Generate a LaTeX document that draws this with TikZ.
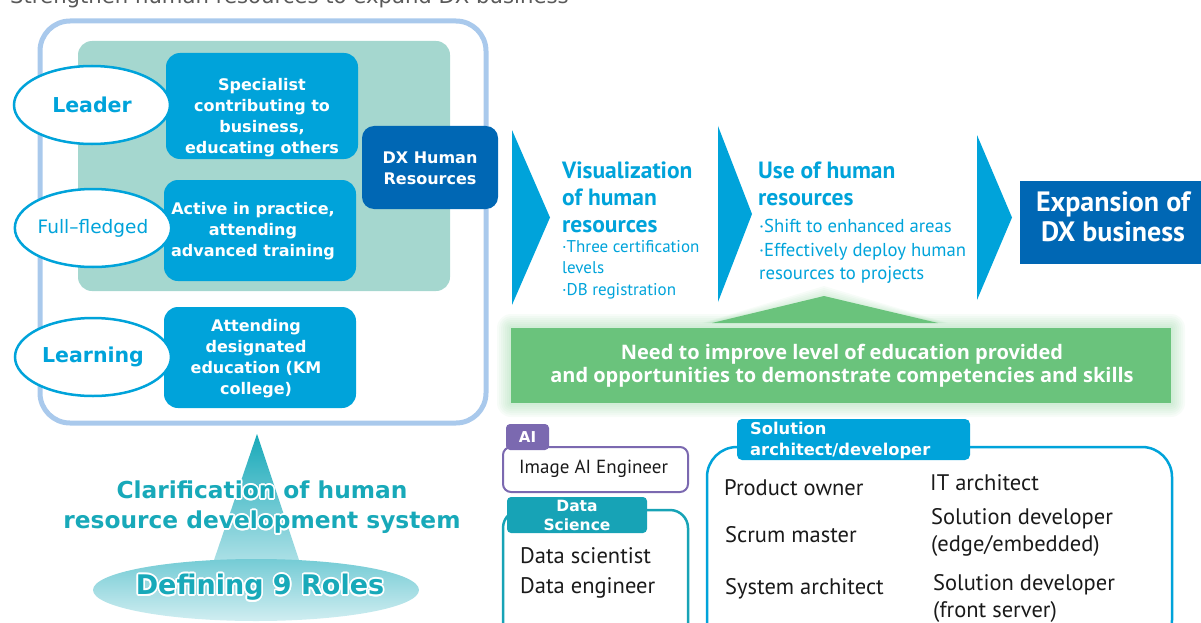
\documentclass[tikz,border=0pt]{standalone}
\usepackage{fontspec}
\setmainfont{DejaVu Sans}
\newfontfamily\narrowfont{PT Sans}
\newfontfamily\openfont{Open Sans}
\usepackage[copies]{contour}
\contourlength{1.6pt}
\contournumber{16}
\usetikzlibrary{positioning,shapes.geometric}

\definecolor{frameblue}{HTML}{A9C9EC}
\definecolor{mintbg}{HTML}{A5D7CF}
\definecolor{cyanbox}{HTML}{00A3DA}
\definecolor{navybox}{HTML}{0067B4}
\definecolor{leafgreen}{HTML}{6AC37C}
\definecolor{aipurple}{HTML}{7B69B0}
\definecolor{dsteal}{HTML}{17A3B6}
\definecolor{roleteal}{HTML}{18A9B9}
\definecolor{titlegray}{HTML}{595959}
\definecolor{itemink}{HTML}{1A1A1A}

\newcommand\setsize[2]{\fontsize{#1}{#2}\selectfont}

\begin{document}
\begin{tikzpicture}[x=1pt,y=-1pt,
  every node/.style={inner sep=0pt},
  levelbox/.style={fill=cyanbox, rounded corners=14pt},
  boxtext/.style={text=white, font=\bfseries\setsize{16}{21}, align=center},
  rolering/.style={ellipse, draw=cyanbox, line width=2.5pt, fill=white,
    minimum width=156pt, minimum height=78pt, text=cyanbox},
  stagehead/.style={text=cyanbox, font=\narrowfont\bfseries\setsize{23.5}{27},
    align=left, anchor=north west},
  stagenote/.style={text=cyanbox, font=\narrowfont\setsize{17}{21.5},
    align=left, anchor=north west},
  headtab/.style={text=white, font=\bfseries\setsize{16}{20}},
  roleitem/.style={text=itemink, font=\narrowfont\setsize{22.5}{27},
    align=left, anchor=west},
]
\useasboundingbox (0,0) rectangle (1201,623);
\clip (0,0) rectangle (1201,623);

% title, cut by the top edge
\node[anchor=base west, text=titlegray, font=\setsize{21.2}{24}] (title) at (10,4)
  {Strengthen human resources to expand DX business};

% left frame with the three levels
\draw[frameblue, line width=5pt, rounded corners=30pt] (40,21) rectangle (486,423);
\fill[mintbg, rounded corners=14pt] (78,41) rectangle (450,291);

\node[levelbox, minimum width=192pt, minimum height=106pt] (specbox) at (262,106) {};
\node[boxtext] (spec) at (262,118) {Specialist\\contributing to\\business,\\educating others};
\node[levelbox, minimum width=192pt, minimum height=101pt] (activebox) at (260,230.5) {};
\node[boxtext] (active) at (253,231) {Active in practice,\\attending\\advanced training};
\node[levelbox, minimum width=192pt, minimum height=101pt] (attendbox) at (260,357.5) {};
\node[boxtext] (attend) at (256,359) {Attending\\designated\\education (KM\\college)};
\node[fill=navybox, rounded corners=12pt, minimum width=136pt, minimum height=83pt] (dxbox) at (430,167.5) {};
\node[boxtext] (dx) at (430,168) {DX Human\\Resources};

\node[rolering, font=\bfseries\setsize{20.5}{24}] (leader) at (92,105) {Leader};
\node[rolering, font=\setsize{18.5}{22}] (full) at (93,228) {Full–fledged};
\node[rolering, font=\bfseries\setsize{20.5}{24}] (learning) at (93,357) {Learning};

% chevrons
\foreach \xa/\ya/\yb/\xt in {512/130/305/550, 718/126/302/752, 977/135/300/1012}
  \fill[cyanbox] (\xa,\ya) -- (\xt,{(\ya+\yb)/2}) -- (\xa,\yb) -- cycle;

\node[stagehead] (visual) at (562,162) {Visualization\\of human\\resources};
\node[stagenote] (visualnote) at (562,240) {·Three certification\\levels\\·DB registration};
\node[stagehead] (use) at (758,162) {Use of human\\resources};
\node[stagenote, font=\narrowfont\setsize{18.7}{23.5}] (usenote) at (759,219)
  {·Shift to enhanced areas\\·Effectively deploy human\\resources to projects};

\node[fill=navybox, minimum width=181pt, minimum height=83pt] (expbox) at (1110.5,222.5) {};
\node[text=white, font=\narrowfont\bfseries\setsize{28}{30}, align=center] (expand) at (1113,217)
  {Expansion of\\DX business};

% green need box with glow
\foreach \g in {2,4,...,14}
  \fill[leafgreen, opacity=0.05, rounded corners=\g pt] ({511-\g},{328-\g}) rectangle ({1171+\g},{403+\g});
\foreach \g in {2,4,...,10}
  \fill[leafgreen, opacity=0.05] ({712-\g},323) -- (824,{296-\g}) -- ({938+\g},323) -- cycle;
\fill[leafgreen] (712,323) -- (824,296) -- (938,323) -- cycle;
\node[fill=leafgreen, minimum width=660pt, minimum height=75pt] (needbox) at (841,365.5) {};
\node[text=white, font=\openfont\bfseries\setsize{20}{23}, align=center] (need) at (842,366)
  {Need to improve level of education provided\\and opportunities to demonstrate competencies and skills};

% role groups
\draw[aipurple, line width=2pt, rounded corners=8pt] (503,447) rectangle (688,492);
\node[headtab, fill=aipurple, rounded corners=4pt, minimum width=43pt, minimum height=26pt,
  font=\bfseries\setsize{15}{18}] (aitab) at (527.5,437) {AI};
\node[roleitem, font=\narrowfont\setsize{19}{20}] (imgai) at (519,469) {Image AI Engineer};

\draw[dsteal, line width=2.5pt, rounded corners=18pt] (503,510) rectangle (688,650);
\node[headtab, fill=dsteal, rounded corners=4pt, minimum width=140pt, minimum height=36pt,
  align=center, font=\bfseries\setsize{15.5}{19}] (dstab) at (577,515) {Data\\Science};
\node[roleitem] (dsci) at (520,556) {Data scientist};
\node[roleitem] (deng) at (520,588) {Data engineer};

\draw[cyanbox, line width=2.5pt, rounded corners=30pt] (707,447) rectangle (1172,650);
\node[fill=cyanbox, rounded corners=5pt, minimum width=233pt, minimum height=41pt] (soltabbox) at (853.5,439.5) {};
\node[headtab, anchor=west, align=left, font=\bfseries\setsize{16.3}{21}] (soltab) at (750,440)
  {Solution\\architect/developer};
\node[roleitem] (owner) at (724,488) {Product owner};
\node[roleitem] (scrum) at (725,535) {Scrum master};
\node[roleitem] (sysarch) at (725,589) {System architect};
\node[roleitem] (itarch) at (930,483) {IT architect};
\node[roleitem] (soledge) at (931,532) {Solution developer\\(edge/embedded)};
\node[roleitem] (solfront) at (933,598) {Solution developer\\(front server)};

% nine roles base
\shade[top color=roleteal, bottom color=roleteal!35] (257,434) -- (300,563) -- (213,563) -- cycle;
\shade[top color=roleteal!60, bottom color=roleteal!20] (256,590) ellipse [x radius=163, y radius=31];
\node[text=roleteal, font=\bfseries\setsize{23.3}{30}, align=center] (clarify) at (262,508)
  {\contour{white}{Clarification of human}\\\contour{white}{resource development system}};
\node[text=roleteal, font=\bfseries\setsize{27}{30}] (nine) at (260,588) {\contour{white}{Defining 9 Roles}};
\end{tikzpicture}
\end{document}
